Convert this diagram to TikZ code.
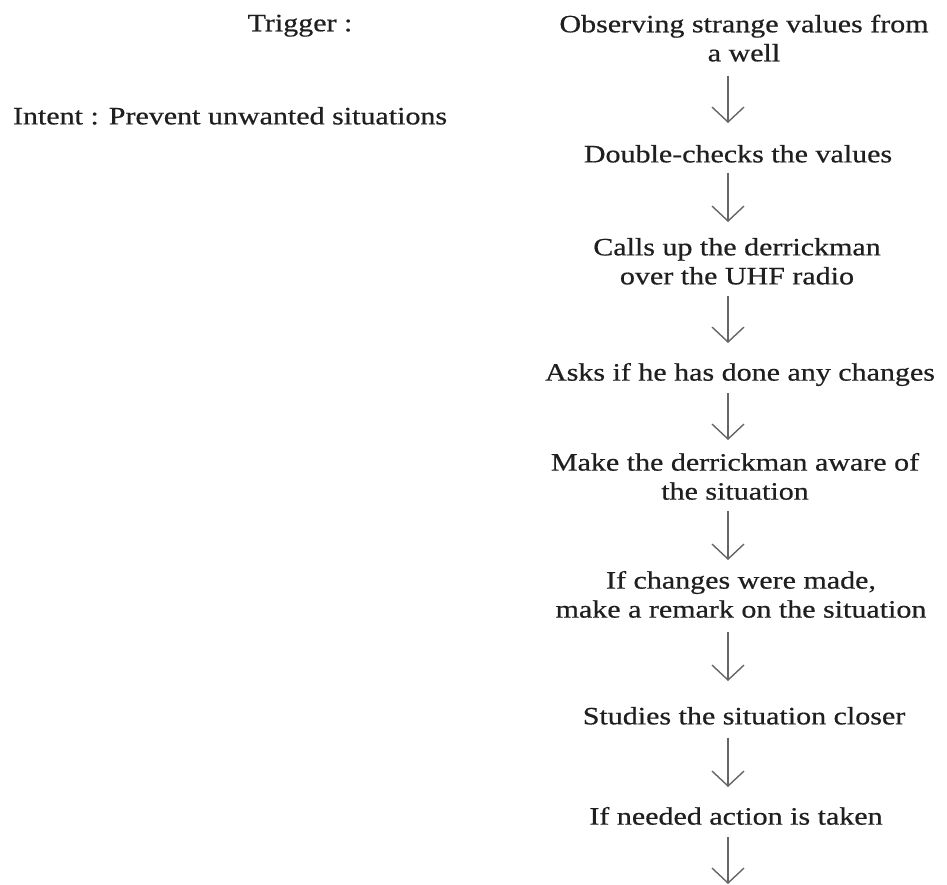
\documentclass[tikz,border=0pt]{standalone}
\usepackage{fontspec}
\setmainfont{Liberation Serif}[FakeStretch=1.2, FakeBold=0.6]
\usepackage{tikz}
\usetikzlibrary{arrows.meta, calc}

\tikzset{
    txt/.style={inner sep=0pt, outer sep=0pt, align=center, anchor=north, text=black!88, font=\fontsize{25}{29}\selectfont},
    flow/.style={draw=black!60, line width=1.4pt, -{Straight Barb[length=15pt,width=32pt]}}
}

\begin{document}
\begin{tikzpicture}[x=1pt, y=-1pt]
        \useasboundingbox (0,0) rectangle (947,884);
        \coordinate (col) at (728,0);

        \node[txt] (trig) at (300,14.7) {Trigger :};
        \node[txt, anchor=north west] (intent) at (13,107) {Intent : Prevent unwanted situations};

        \node[txt] (obs) at (744,14.7) {Observing strange values from\\a well};
        \node[txt] (dbl) at (738,145) {Double-checks the values};
        \node[txt] (calls) at (737,238) {Calls up the derrickman\\over the UHF radio};
        \node[txt] (asks) at (740,363) {Asks if he has done any changes};
        \node[txt] (make) at (735,453) {Make the derrickman aware of\\the situation};
        \node[txt] (ifch) at (741,571) {If changes were made,\\make a remark on the situation};
        \node[txt] (stud) at (744,707) {Studies the situation closer};
        \node[txt] (need) at (736,807) {If needed action is taken};
        \coordinate (end) at (728,884);

        \draw[flow, shorten <=14pt, shorten >=22pt] (obs.south -| col) -- (dbl.north -| col);
        \draw[flow, shorten <=10pt, shorten >=16pt] (dbl.south -| col) -- (calls.north -| col);
        \draw[flow, shorten <=11pt, shorten >=20pt] (calls.south -| col) -- (asks.north -| col);
        \draw[flow, shorten <=7pt, shorten >=13pt] (asks.south -| col) -- (make.north -| col);
        \draw[flow, shorten <=11pt, shorten >=11pt] (make.south -| col) -- (ifch.north -| col);
        \draw[flow, shorten <=14pt, shorten >=26pt] (ifch.south -| col) -- (stud.north -| col);
        \draw[flow, shorten <=13pt, shorten >=20pt] (stud.south -| col) -- (need.north -| col);
        \draw[flow, shorten <=12pt] (need.south -| col) -- (end);

    \end{tikzpicture}
\end{document}
